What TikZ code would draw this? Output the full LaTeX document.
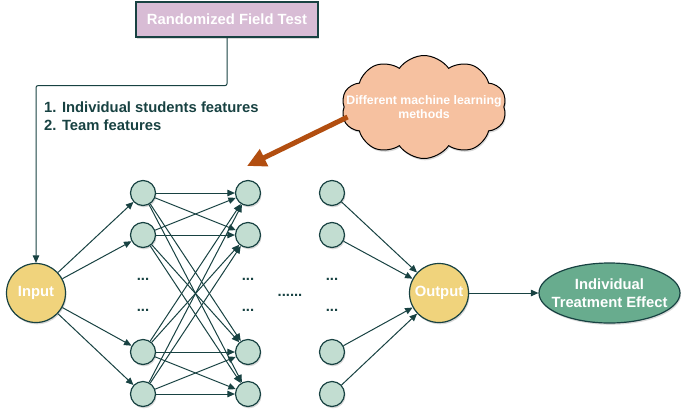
\documentclass[tikz,border=0pt]{standalone}
\usepackage{fontspec}
\setsansfont{Liberation Sans}
\usetikzlibrary{arrows.meta,shapes,positioning,shadows,calc}
\definecolor{edge}{RGB}{24,66,66}
\definecolor{boxpink}{RGB}{216,188,213}
\definecolor{puff}{RGB}{246,193,160}
\definecolor{sun}{RGB}{240,211,124}
\definecolor{mint}{RGB}{194,221,209}
\definecolor{effect}{RGB}{104,172,142}
\definecolor{rust}{RGB}{178,78,16}
\newcommand{\bigfont}{\sffamily\bfseries\fontsize{14.8}{18}\selectfont}
\tikzset{
  basic/.style  = {draw=edge, line width=1.2pt, text=white, font=\bigfont,
  drop shadow={opacity=0.3, shadow xshift=1pt, shadow yshift=-1.8pt}},
  root/.style = {basic, rectangle, fill=boxpink, minimum width=182pt, minimum height=35pt},
  io/.style = {basic, circle, fill=sun, minimum size=59pt, inner sep=0pt},
  neuron/.style = {basic, circle, fill=mint, minimum size=25pt, inner sep=0pt},
  result/.style = {basic, ellipse, fill=effect, align=center, inner sep=0pt,
  minimum width=141pt, minimum height=60pt},
  idea/.style = {basic, draw=black, line width=1pt, cloud, cloud puffs=10, cloud puff arc=110,
  cloud ignores aspect, fill=puff, align=center, inner sep=0pt,
  font=\sffamily\bfseries\fontsize{12.3}{14}\selectfont,
  minimum width=165pt, minimum height=103pt},
  dots/.style = {text=edge, font=\bigfont, anchor=base, inner sep=0pt},
  link/.style = {draw=edge, line width=1pt, -{Triangle[length=7.5pt,width=6.5pt]}}
}
\begin{document}
\begin{tikzpicture}[x=1pt,y=-1pt]
\useasboundingbox (0,0) rectangle (685,416);
\node [root] (rft) at (227,19.5) {Randomized Field Test};
\node [text=edge, font=\bigfont, align=left, anchor=west, inner sep=0pt] (feat) at (44,116)
  {1. Individual students features\\2. Team features};
\node [idea] (ml) at (424,107) {\makebox[0pt]{Different machine learning}\\\makebox[0pt]{methods}};
\node [io] (input) at (36,293) {Input};
\node [io] (output) at (439,293) {Output};
\node [result] (ite) at (609.5,293) {\makebox[0pt]{Individual}\\\makebox[0pt]{Treatment Effect}};
% the hidden layers, one column after the other
\foreach \col/\x in {1/143,2/248,3/332}{
  \node [neuron] (n\col1) at (\x,193) {};
  \node [neuron] (n\col2) at (\x,235) {};
  \node [neuron] (n\col3) at (\x,352) {};
  \node [neuron] (n\col4) at (\x,394) {};
  \node [dots] (d\col1) at (\x,280) {...};
  \node [dots] (d\col2) at (\x,311) {...};
}
\node [dots] (gap) at (290,296) {......};
% from the field test to the input
\draw [link, rounded corners=2pt] (rft.south) -- ++(0,48) -| (input.north);
% input to first column, first to second column, last column to output
\foreach \i in {1,...,4}{
  \draw [link] (input) -- (n1\i);
  \draw [link] (n3\i) -- (output);
  \foreach \j in {1,...,4}
    \draw [link] (n1\i) -- (n2\j);
}
\draw [link] (output) -- (ite);
% the thick arrow from the cloud
\coordinate (mltip) at (247,166);
\draw [rust, line width=5pt, -{Triangle[length=19pt,width=18pt]}] ($(ml.west)+(4,10)$) -- (mltip);
\end{tikzpicture}
\end{document}
